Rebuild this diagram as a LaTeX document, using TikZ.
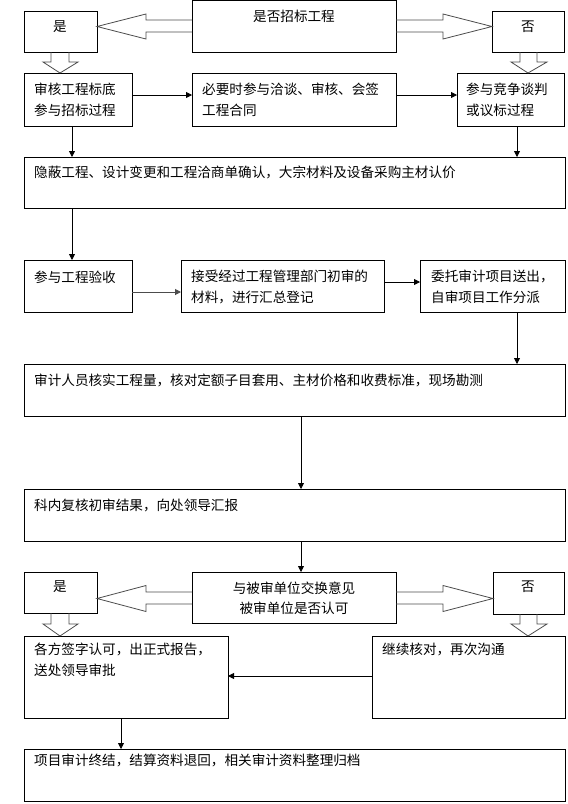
\documentclass[tikz,border=0pt]{standalone}
\usepackage{fontspec}
\newfontfamily\cjk{Noto Sans CJK SC}
\usetikzlibrary{arrows.meta}
\tikzset{
  box/.style={draw, line width=0.8pt, inner sep=0pt, outer sep=0pt},
  txt/.style={font=\cjk\fontsize{13.6}{21}\selectfont, inner sep=0pt, anchor=west, align=left},
  ctxt/.style={font=\cjk\fontsize{13.6}{20}\selectfont, inner sep=0pt, anchor=center, align=center},
  conn/.style={draw, line width=0.8pt, -{Triangle[length=6pt,width=6pt]}},
  grayconn/.style={conn, draw=black!70, line width=1pt},
  hollow/.style={draw=black!70, line width=0.8pt, line join=miter},
}
\newcommand\mkbox[5]{\node[box, minimum width={#4-#2}, minimum height={#5-#3}] (#1) at ({(#2+#4)/2},{-(#3+#5)/2}) {};}
\begin{document}
\begin{tikzpicture}[x=1pt,y=1pt]
\useasboundingbox (0,0) rectangle (568,-804);
% boxes
\mkbox{T1}{192}{0.5}{396}{52}
\mkbox{Y1}{24}{11}{97}{52}
\mkbox{N1}{492}{11}{564}{52}
\mkbox{B2L}{24}{73}{132}{126}
\mkbox{B2M}{192}{73}{396}{126}
\mkbox{B2R}{457}{73}{564}{126}
\mkbox{B3}{24}{157}{565}{208}
\mkbox{B4a}{24}{260}{132}{312}
\mkbox{B4b}{181}{260}{384}{312}
\mkbox{B4c}{420}{260}{565}{312}
\mkbox{B5}{24}{364}{565}{416}
\mkbox{B6}{24}{489}{565}{541}
\mkbox{T2}{192}{572}{396}{623}
\mkbox{Y2}{24}{572}{97}{613}
\mkbox{N2}{493}{572}{564}{614}
\mkbox{B8L}{24}{636}{228}{718}
\mkbox{B8R}{372}{636}{565}{718}
\mkbox{B9}{24}{749}{565}{801}
% texts
\node[ctxt] (tT1) at (294,-16) {是否招标工程};
\node[ctxt] (tY1) at (60,-26.5) {是};
\node[ctxt] (tN1) at (528,-26.5) {否};
\node[txt] (tB2L) at (34,-99.5) {审核工程标底\\参与招标过程};
\node[txt] (tB2M) at (202,-99.5) {必要时参与洽谈、审核、会签\\工程合同};
\node[txt] (tB2R) at (466,-99.5) {参与竞争谈判\\或议标过程};
\node[txt] (tB3) at (34,-172) {隐蔽工程、设计变更和工程洽商单确认，大宗材料及设备采购主材认价};
\node[txt] (tB4a) at (34,-277) {参与工程验收};
\node[txt] (tB4b) at (191,-287) {接受经过工程管理部门初审的\\材料，进行汇总登记};
\node[txt] (tB4c) at (431,-287) {委托审计项目送出，\\自审项目工作分派};
\node[txt] (tB5) at (34,-380) {审计人员核实工程量，核对定额子目套用、主材价格和收费标准，现场勘测};
\node[txt] (tB6) at (34,-505) {科内复核初审结果，向处领导汇报};
\node[ctxt] (tT2) at (294,-598) {与被审单位交换意见\\被审单位是否认可};
\node[ctxt] (tY2) at (60,-587) {是};
\node[ctxt] (tN2) at (528,-587) {否};
\node[txt] (tB8L) at (34,-660) {各方签字认可，出正式报告，\\送处领导审批};
\node[txt] (tB8R) at (382,-649) {继续核对，再次沟通};
\node[txt] (tB9) at (34,-760) {项目审计终结，结算资料退回，相关审计资料整理归档};
% hollow arrows (top)
\draw[hollow] (T1.west |- 0,-20) -- (146,-20) -- (146,-14) -- (Y1.east |- 0,-26.5) -- (146,-39) -- (146,-32) -- (T1.west |- 0,-32);
\draw[hollow] (T1.east |- 0,-20) -- (443,-20) -- (443,-14) -- (N1.west |- 0,-26.5) -- (443,-39) -- (443,-32) -- (T1.east |- 0,-32);
\draw[hollow] (Y1.south -| 51,0) -- (51,-62) -- (43,-62) -- (B2L.north -| 60,0) -- (78,-62) -- (69,-62) -- (Y1.south -| 69,0);
\draw[hollow] (N1.south -| 520,0) -- (520,-62) -- (511,-62) -- (B2R.north -| 528,0) -- (547,-62) -- (537,-62) -- (N1.south -| 537,0);
% hollow arrows (bottom)
\draw[hollow] (T2.west |- 0,-592) -- (146,-592) -- (146,-585.5) -- (Y2.east |- 0,-598.5) -- (146,-611.5) -- (146,-604) -- (T2.west |- 0,-604);
\draw[hollow] (T2.east |- 0,-592) -- (443,-592) -- (443,-585.5) -- (N2.west |- 0,-598.5) -- (443,-611.5) -- (443,-604) -- (T2.east |- 0,-604);
\draw[hollow] (Y2.south -| 51,0) -- (51,-624) -- (43,-624) -- (B8L.north -| 60,0) -- (78,-624) -- (69,-624) -- (Y2.south -| 69,0);
\draw[hollow] (N2.south -| 520,0) -- (520,-624) -- (511,-624) -- (B8R.north -| 528,0) -- (547,-624) -- (537,-624) -- (N2.south -| 537,0);
% connectors
\draw[conn] (B2L.east |- 0,-95) -- (B2M.west |- 0,-95);
\draw[conn] (B2M.east |- 0,-95) -- (B2R.west |- 0,-95);
\draw[conn] (B2L.south -| 72,0) -- (B3.north -| 72,0);
\draw[conn] (B2R.south -| 517,0) -- (B3.north -| 517,0);
\draw[conn] (B3.south -| 72,0) -- (B4a.north -| 72,0);
\draw[grayconn] (B4a.east |- 0,-292) -- (B4b.west |- 0,-292);
\draw[conn] (B4b.east |- 0,-282) -- (B4c.west |- 0,-282);
\draw[conn] (B4c.south -| 517,0) -- (B5.north -| 517,0);
\draw[conn] (B5.south -| 301,0) -- (B6.north -| 301,0);
\draw[conn] (B6.south -| 301,0) -- (T2.north -| 301,0);
\draw[conn] (B8R.west |- 0,-676) -- (B8L.east |- 0,-676);
\draw[conn] (B8L.south -| 121,0) -- (B9.north -| 121,0);
\end{tikzpicture}
\end{document}
